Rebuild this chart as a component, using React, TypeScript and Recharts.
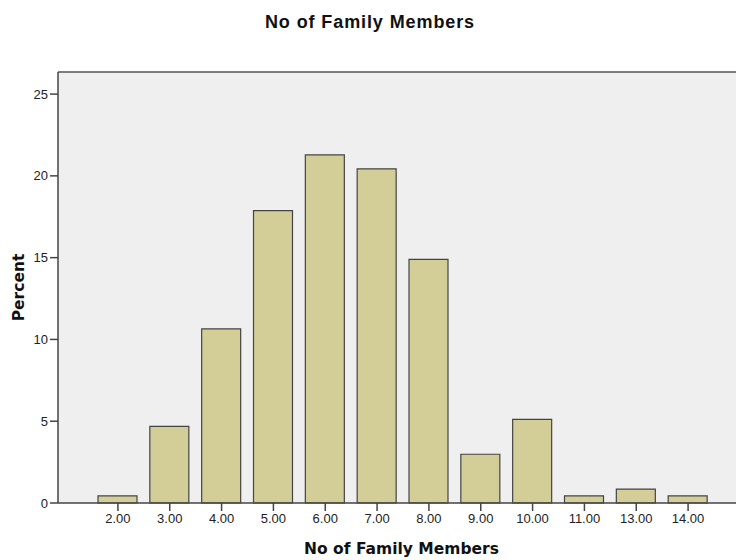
import React from 'react';
import { BarChart, Bar, XAxis, YAxis, CartesianGrid, ReferenceLine } from 'recharts';

const categories = ['2.00', '3.00', '4.00', '5.00', '6.00', '7.00', '8.00', '9.00', '10.00', '11.00', '13.00', '14.00'];
const percents = [0.43, 4.68, 10.64, 17.87, 21.28, 20.43, 14.89, 2.98, 5.11, 0.43, 0.85, 0.43];
const yTicks = [0, 5, 10, 15, 20, 25];
const yMax = 26.35;

const data = categories.map((c, i) => ({ name: c, value: percents[i] }));

const FONT = '"Liberation Sans", Arial, sans-serif';
const LABEL_FONT = '"DejaVu Sans", Verdana, sans-serif';

export default function App() {
  return (
    <div style={{ position: 'absolute', left: 0, top: 0, width: 736, height: 560, overflow: 'hidden', background: '#fff', fontFamily: FONT }}>
      <div style={{ position: 'absolute', left: 0, width: 740, top: 12, textAlign: 'center', fontWeight: 'bold', fontSize: 18, letterSpacing: 0.9, color: '#111', fontFamily: FONT }}>
        No of Family Members
      </div>
      <BarChart
        width={755}
        height={560}
        data={data}
        margin={{ top: 72, right: 10, left: 0, bottom: 0 }}
        barCategoryGap={0}
      >
        <CartesianGrid horizontal={false} vertical={false} fill="#EFEFEF" />
        <ReferenceLine y={yMax} stroke="#555" strokeWidth={1.5} ifOverflow="extendDomain" />
        <XAxis
          dataKey="name"
          height={57}
          padding={{ left: 34, right: 31 }}
          tickSize={8}
          tickMargin={3}
          tick={{ fill: '#222', fontSize: 13, fontFamily: FONT }}
          axisLine={{ stroke: '#444', strokeWidth: 1.5 }}
          tickLine={{ stroke: '#444', strokeWidth: 1.5 }}
          interval={0}
          label={{ value: 'No of Family Members', position: 'insideBottom', offset: 6, style: { fontWeight: 'bold', fontSize: 15.5, fill: '#111', fontFamily: LABEL_FONT } }}
        />
        <YAxis
          width={58}
          domain={[0, yMax]}
          ticks={yTicks}
          tickSize={8}
          tickMargin={2}
          tick={{ fill: '#222', fontSize: 13, fontFamily: FONT }}
          axisLine={{ stroke: '#444', strokeWidth: 1.5 }}
          tickLine={{ stroke: '#444', strokeWidth: 1.5 }}
          label={{ value: 'Percent', angle: -90, position: 'insideLeft', offset: 18, style: { textAnchor: 'middle', fontWeight: 'bold', fontSize: 15.5, fill: '#111', fontFamily: LABEL_FONT } }}
        />
        <Bar dataKey="value" fill="#D3CE97" stroke="#444" strokeWidth={1.2} barSize={39} isAnimationActive={false} />
      </BarChart>
    </div>
  );
}
